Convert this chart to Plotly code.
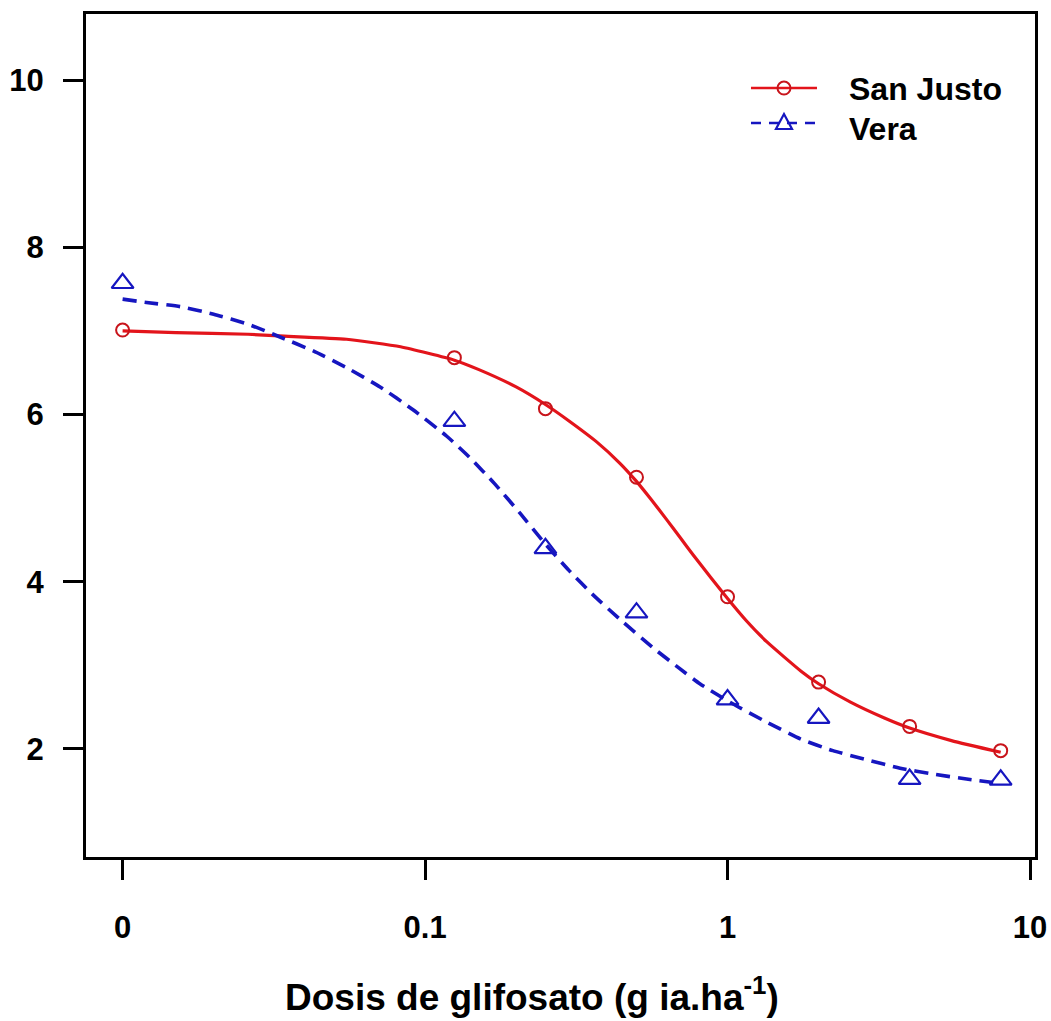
import plotly.graph_objects as go

# Observed means per dose (g ia/ha); dose 0 is the untreated control
doses = [0, 0.125, 0.25, 0.5, 1, 2, 4, 8]
san_justo = [7.01, 6.68, 6.07, 5.25, 3.82, 2.80, 2.27, 1.98]
vera = [7.57, 5.92, 4.40, 3.63, 2.59, 2.37, 1.64, 1.63]

# Fitted dose-response curves
sj_fit_dose = [0.01, 0.015, 0.026, 0.033, 0.055, 0.083, 0.125, 0.15, 0.2, 0.25,
               0.3, 0.37, 0.44, 0.5, 0.56, 0.63, 0.7, 0.77, 0.88, 1.0, 1.15,
               1.35, 1.75, 2.0, 2.55, 3.3, 4.0, 5.5, 8.0]
sj_fit = [7.00, 6.98, 6.96, 6.94, 6.90, 6.81, 6.65, 6.54, 6.33, 6.12,
          5.92, 5.67, 5.42, 5.20, 4.98, 4.74, 4.52, 4.32, 4.05, 3.80, 3.54,
          3.28, 2.93, 2.78, 2.56, 2.37, 2.25, 2.10, 1.96]
vera_fit_dose = [0.01, 0.012, 0.0155, 0.020, 0.026, 0.033, 0.0427, 0.055, 0.071,
                 0.091, 0.118, 0.141, 0.17, 0.206, 0.25, 0.3, 0.36, 0.441, 0.567,
                 0.69, 0.81, 1.04, 1.35, 1.74, 2.23, 2.89, 3.72, 4.78, 6.17, 7.95]
vera_fit = [7.38, 7.34, 7.29, 7.20, 7.08, 6.93, 6.76, 6.56, 6.33,
            6.06, 5.74, 5.48, 5.17, 4.82, 4.45, 4.13, 3.84, 3.55, 3.21,
            2.97, 2.78, 2.54, 2.32, 2.12, 1.98, 1.87, 1.77, 1.70, 1.64, 1.59]

x_tick_vals = [0, 0.1, 1, 10]
x_tick_text = ["0", "0.1", "1", "10"]
y_tick_vals = [2, 4, 6, 8, 10]

ZERO_AT = 0.01  # where the control dose sits on the broken log axis


def on_axis(values):
    return [ZERO_AT if v == 0 else v for v in values]


RED = "#e3141b"
RED_DARK = "#c8141b"
BLUE = "#1616c0"
FONT = "Liberation Sans, Arial, Helvetica, sans-serif"

fig = go.Figure()

fig.add_trace(go.Scatter(
    x=sj_fit_dose, y=sj_fit, mode="lines",
    line=dict(color=RED, width=3.2, shape="spline", smoothing=0.5),
    showlegend=False, hoverinfo="skip"))
fig.add_trace(go.Scatter(
    x=vera_fit_dose, y=vera_fit, mode="lines",
    line=dict(color=BLUE, width=3.6, dash="14px,8px", shape="spline", smoothing=0.5),
    showlegend=False, hoverinfo="skip"))

fig.add_trace(go.Scatter(
    x=on_axis(doses), y=san_justo, mode="markers", name="San Justo",
    marker=dict(symbol="circle-open", size=13, color=RED_DARK,
                line=dict(width=2, color=RED_DARK)),
    showlegend=False))
fig.add_trace(go.Scatter(
    x=on_axis(doses), y=vera, mode="markers", name="Vera",
    marker=dict(symbol="triangle-up-open", size=19, color=BLUE,
                line=dict(width=2.2, color=BLUE)),
    showlegend=False))

# Legend keys (line + symbol) and labels
key_x = 0.7355
legend_rows = [
    ("San Justo", 0.9122, 0.9110, RED, "solid", "circle"),
    ("Vera", 0.8707, 0.8640, BLUE, "dash", "triangle"),
]
for label, ky, ty, color, dash, sym in legend_rows:
    fig.add_shape(type="line", xref="paper", yref="paper",
                  xsizemode="pixel", ysizemode="pixel",
                  xanchor=key_x, yanchor=ky, x0=-33, x1=33, y0=0, y1=0,
                  line=dict(color=color, width=2.6,
                            dash="solid" if dash == "solid" else "10px,8px"))
    if sym == "circle":
        fig.add_shape(type="circle", xref="paper", yref="paper",
                      xsizemode="pixel", ysizemode="pixel",
                      xanchor=key_x, yanchor=ky, x0=-6.5, x1=6.5, y0=-6.5, y1=6.5,
                      line=dict(color=RED_DARK, width=2), fillcolor="rgba(0,0,0,0)")
    else:
        fig.add_shape(type="path", xref="paper", yref="paper",
                      xsizemode="pixel", ysizemode="pixel",
                      xanchor=key_x, yanchor=ky,
                      path="M-8,-6 L8,-6 L0,9 Z",
                      line=dict(color=color, width=2.2), fillcolor="rgba(0,0,0,0)")
    fig.add_annotation(text=label, xref="paper", yref="paper",
                       x=0.8019, y=ty, xanchor="left", yanchor="middle",
                       showarrow=False,
                       font=dict(family=FONT, size=32, color="black", weight="bold"))

# x-axis title
fig.add_annotation(text="Dosis de glifosato (g ia.ha<sup>-1</sup>)",
                   xref="paper", yref="paper", x=0.47, y=-0.1637,
                   xanchor="center", yanchor="middle", showarrow=False,
                   font=dict(family=FONT, size=37, color="black", weight="bold"))

axis_common = dict(
    ticks="outside", ticklen=20, tickwidth=2.5, tickcolor="black",
    showline=True, linewidth=3, linecolor="black", mirror=True,
    showgrid=False, zeroline=False, automargin=False,
    tickfont=dict(family=FONT, size=31, color="black", weight="bold"),
)

fig.update_layout(
    width=1051, height=1021,
    margin=dict(l=86, r=16, t=14, b=164),
    paper_bgcolor="white", plot_bgcolor="white",
    showlegend=False,
    xaxis=dict(type="log", range=[-2.121, 1.0165],
               tickvals=on_axis(x_tick_vals), ticktext=x_tick_text,
               ticklabelstandoff=21, **axis_common),
    yaxis=dict(range=[0.708, 10.79], tickvals=y_tick_vals,
               ticklabelstandoff=13, **axis_common),
)

fig.write_html("out.html")
